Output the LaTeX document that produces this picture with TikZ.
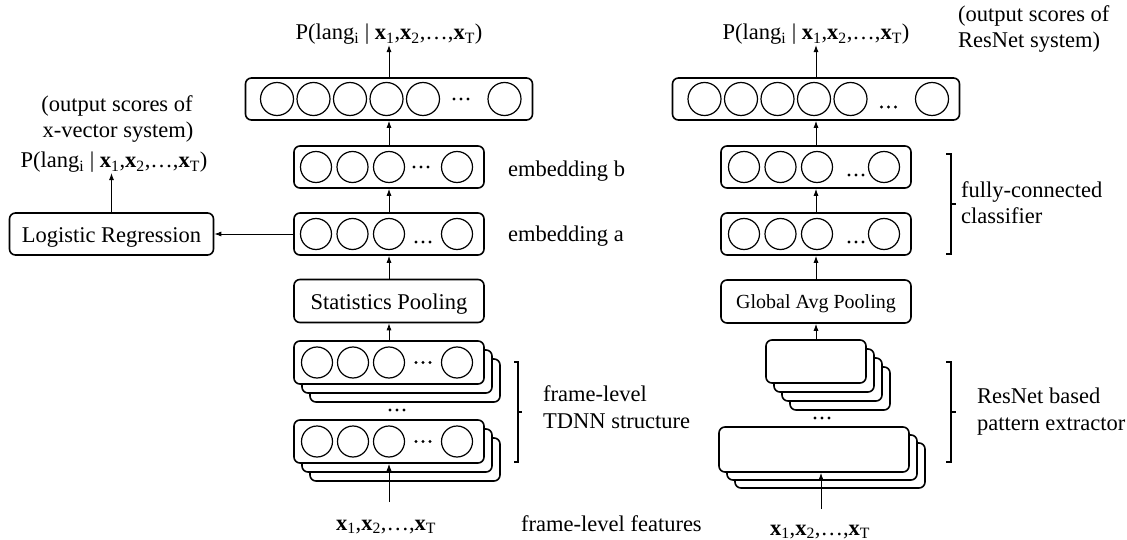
\documentclass[tikz,border=0pt]{standalone}
\usepackage{fontspec}
\setmainfont{Liberation Serif}
\usetikzlibrary{arrows.meta}
\newcommand\tdots[2]{\foreach \k in {-1,0,1}{\fill (#1+\k*7,#2) circle (1.7pt);}}
\newcommand\ptitle{P(lang\textsubscript{i} | \textbf{x}\textsubscript{1},\textbf{x}\textsubscript{2},…,\textbf{x}\textsubscript{T})}
\newcommand\xseq{\textbf{x}\textsubscript{1},\textbf{x}\textsubscript{2},…,\textbf{x}\textsubscript{T}}
\tikzset{
 box/.style={draw, line width=1.6pt, rounded corners=6pt, fill=white, inner sep=0pt},
 neuron/.style={circle, draw, line width=1.2pt, minimum size=31pt, inner sep=0pt},
 bigneuron/.style={neuron, minimum size=33pt},
 arr/.style={-{Latex[length=7pt,width=5pt]}, line width=0.9pt},
 lbl/.style={anchor=base west, inner sep=0pt},
 ctr/.style={anchor=base, inner sep=0pt},
 brk/.style={line width=1.2pt},
}
\begin{document}
\begin{tikzpicture}[x=1pt,y=-1pt,font=\fontsize{22.5}{26}\selectfont]
\useasboundingbox (0,0) rectangle (1127,540);
% ================= LEFT COLUMN =================
\node[ctr] (tL) at (389,40) {\ptitle};
\node[box, minimum width=287pt, minimum height=42pt] (topL) at (389,99) {};
\foreach \i/\xx in {1/32,2/68.5,3/105,4/141.5,5/178,6/259.5}
  \node[bigneuron] (topL\i) at (245+\xx,99) {};
\tdots{461}{99}
\node[box, minimum width=190pt, minimum height=42pt] (ebL) at (389,167) {};
\foreach \i/\xx in {1/22,2/58.5,3/95,4/163}
  \node[neuron] (ebL\i) at (294+\xx,167) {};
\tdots{421}{167}
\node[box, minimum width=190pt, minimum height=42pt] (eaL) at (389,234) {};
\foreach \i/\xx in {1/22,2/58.5,3/95,4/163}
  \node[neuron] (eaL\i) at (294+\xx,234) {};
\tdots{423}{242}
\node[box, minimum width=190pt, minimum height=43pt] (spL) at (389,301) {};
\node[ctr] at (389,309) {Statistics Pooling};
% stack 1 left
\node[box, minimum width=190pt, minimum height=43pt] (s1Lb2) at (405,380.5) {};
\node[box, minimum width=190pt, minimum height=43pt] (s1Lb1) at (397,371.5) {};
\node[box, minimum width=190pt, minimum height=43pt] (s1L) at (389,362.5) {};
\foreach \i/\xx in {1/23,2/59,3/95,4/163}
  \node[neuron] (s1L\i) at (294+\xx,362.5) {};
\tdots{423}{362.5}
\tdots{397}{410}
% stack 2 left
\node[box, minimum width=190pt, minimum height=43pt] (s2Lb2) at (405,459.5) {};
\node[box, minimum width=190pt, minimum height=43pt] (s2Lb1) at (397,450.5) {};
\node[box, minimum width=190pt, minimum height=43pt] (s2L) at (389,441.5) {};
\foreach \i/\xx in {1/23,2/59,3/95,4/163}
  \node[neuron] (s2L\i) at (294+\xx,441.5) {};
\tdots{423}{441.5}
\coordinate (inL) at (389,502);
\node[ctr] (xL) at (386,530) {\xseq};
% logistic regression
\node[box, minimum width=204pt, minimum height=42pt] (lr) at (111.5,234) {};
\node[ctr] at (111.5,242) {Logistic Regression};
\node[ctr] (os1) at (117,112) {(output scores of};
\node[ctr] (os2) at (118,138) {x-vector system)};
\node[ctr] (pL) at (114,168) {\ptitle};
% arrows left
\draw[arr] (topL.north) -- (topL.north |- tL.south);
\draw[arr] (ebL.north) -- (topL.south);
\draw[arr] (eaL.north) -- (ebL.south);
\draw[arr] (spL.north) -- (eaL.south);
\draw[arr] (s1L.north) -- (spL.south);
\draw[arr] (inL) -- (s2L.south);
\draw[arr] (eaL.west) -- (lr.east);
\draw[arr] (lr.north) -- (lr.north |- pL.south);
% labels left
\node[lbl] at (508,177) {embedding b};
\node[lbl] at (508,241) {embedding a};
\draw[brk] (514,362) -- (518,362) -- (518,462) -- (514,462);
\draw[brk] (518,412) -- (522,412);
\node[lbl] at (543,401) {frame-level};
\node[lbl] at (543,428) {TDNN structure};
\node[lbl] at (521,531) {frame-level features};
% ================= RIGHT COLUMN =================
\node[ctr] (tR) at (816,40) {\ptitle};
\node[lbl] at (958,22) {(output scores of};
\node[lbl] at (958,48) {ResNet system)};
\node[box, minimum width=287pt, minimum height=42pt] (topR) at (816,99) {};
\foreach \i/\xx in {1/32,2/68.5,3/105,4/141.5,5/178,6/259.5}
  \node[bigneuron] (topR\i) at (672.5+\xx,99) {};
\tdots{888.5}{107}
\node[box, minimum width=190pt, minimum height=42pt] (fc1) at (816,167) {};
\foreach \i/\xx in {1/23,2/59.5,3/96,4/163}
  \node[neuron] (fc1\i) at (721+\xx,167) {};
\tdots{856}{175}
\node[box, minimum width=190pt, minimum height=42pt] (fc2) at (816,234) {};
\foreach \i/\xx in {1/23,2/59.5,3/96,4/163}
  \node[neuron] (fc2\i) at (721+\xx,234) {};
\tdots{856}{242}
\node[box, minimum width=190pt, minimum height=43pt] (gap) at (816,301.5) {};
\node[ctr, font=\fontsize{20}{24}\selectfont] at (816,308.5) {Global Avg Pooling};
% stack 1 right
\node[box, minimum width=100pt, minimum height=43pt] (s1Rb3) at (840,388.5) {};
\node[box, minimum width=100pt, minimum height=43pt] (s1Rb2) at (832,379.5) {};
\node[box, minimum width=100pt, minimum height=43pt] (s1Rb1) at (824,370.5) {};
\node[box, minimum width=100pt, minimum height=43pt] (s1R) at (816,361.5) {};
\tdots{822}{418}
% stack 2 right
\node[box, minimum width=190pt, minimum height=45pt] (s2Rb2) at (830,465.5) {};
\node[box, minimum width=190pt, minimum height=45pt] (s2Rb1) at (822,457.5) {};
\node[box, minimum width=190pt, minimum height=45pt] (s2R) at (814,449.5) {};
\coordinate (inR) at (821,509);
\node[ctr] (xR) at (820,535) {\xseq};
% arrows right
\draw[arr] (topR.north) -- (topR.north |- tR.south);
\draw[arr] (fc1.north) -- (topR.south);
\draw[arr] (fc2.north) -- (fc1.south);
\draw[arr] (gap.north) -- (fc2.south);
\draw[arr] (s1R.north) -- (gap.south);
\draw[arr] (inR) -- (inR |- s2R.south);
% labels right
\draw[brk] (946,154) -- (951,154) -- (951,254) -- (946,254);
\draw[brk] (951,204) -- (956,204);
\node[lbl] at (961,198) {fully-connected};
\node[lbl] at (961,224) {classifier};
\draw[brk] (946,362) -- (951,362) -- (951,462) -- (946,462);
\draw[brk] (951,412) -- (956,412);
\node[lbl] at (977,403) {ResNet based};
\node[lbl] at (977,430) {pattern extractor};
\end{tikzpicture}
\end{document}
